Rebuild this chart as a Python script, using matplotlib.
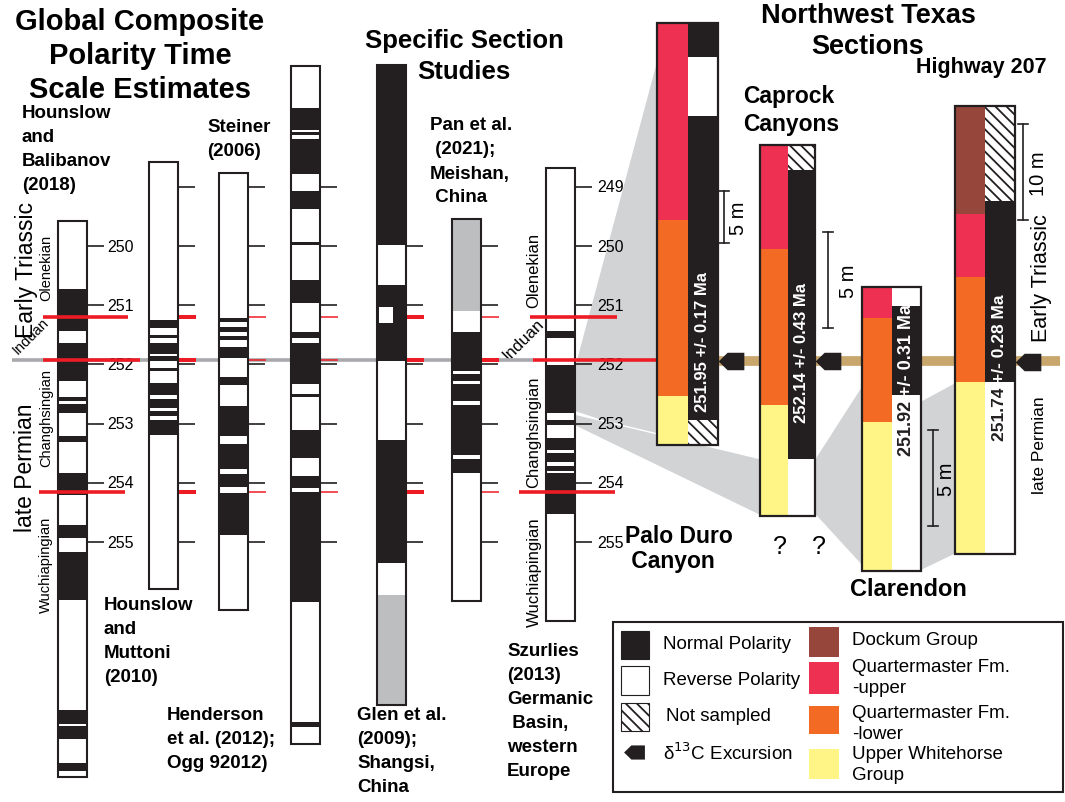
import matplotlib
matplotlib.use("Agg")
import matplotlib.pyplot as plt
from matplotlib.patches import Rectangle, Polygon

plt.rcParams['font.family'] = ['Liberation Sans', 'DejaVu Sans']
plt.rcParams['hatch.linewidth'] = 1.3

BLACK = '#231f20'
UNKNOWN = '#bcbec0'
WEDGE = '#d1d3d4'
RED = '#ed1c24'
PT_GRAY = '#a7a9ac'
TAN = '#c9a66c'
UNIT_COLORS = {'dk': '#97463b', 'qu': '#ee3052', 'ql': '#f26a24', 'wh': '#fff587'}

# ---------------- polarity columns (ages in Ma) ----------------
tick_ages = [249, 250, 251, 252, 253, 254, 255]
boundaries = [251.2, 251.92, 254.15]   # Olenekian/Induan, P-T, Changhsingian/Wuchiapingian

hb_span = (249.58, 258.97)
hb_normal = [(250.73, 251.44), (251.64, 252.28), (252.55, 252.62), (252.67, 252.82),
             (253.21, 253.31), (253.83, 254.21), (254.71, 254.93), (255.17, 255.98),
             (257.84, 258.07), (258.11, 258.33), (258.73, 258.87)]

hm_span = (248.58, 255.79)
hm_normal = [(251.25, 251.39), (251.50, 251.55), (251.64, 251.82), (251.86, 251.94),
             (252.06, 252.11), (252.31, 252.52), (252.58, 252.74), (252.79, 252.87),
             (252.94, 253.19)]

st_span = (248.77, 256.15)
st_normal = [(251.22, 251.28), (251.37, 251.45), (251.52, 251.59), (251.71, 251.89),
             (252.21, 252.35), (252.70, 253.21), (253.34, 253.77), (253.85, 254.07),
             (254.17, 254.88)]

he_span = (246.96, 258.41)
he_normal = [(247.67, 248.04), (248.07, 248.13), (248.19, 248.78), (249.07, 249.38),
             (249.93, 249.98), (250.57, 250.96), (251.45, 251.55), (251.64, 252.33),
             (252.50, 252.55), (253.11, 253.58), (253.89, 254.09), (254.16, 256.01),
             (258.04, 258.13)]

gl_span = (246.94, 257.75)
gl_normal = [(246.94, 249.98), (250.66, 251.94), (253.28, 255.35)]
gl_reverse_part = [(251.03, 251.30)]
gl_unknown = [(255.90, 257.75)]

pan_span = (249.54, 256.00)
pan_unknown = [(249.54, 251.10)]
pan_normal = [(251.45, 252.11), (252.16, 252.28), (252.33, 252.62), (252.69, 253.53),
              (253.60, 253.83)]

sz_span = (248.68, 256.33)
sz_normal = [(251.44, 251.55), (252.01, 252.82), (252.94, 253.02), (253.24, 253.45),
             (253.50, 253.65), (253.72, 253.80), (253.83, 254.53)]

# ---------------- NW Texas sections (metres above base) ----------------
pd_thick = 40.6
pd_litho = [(0, 4.7, 'wh'), (4.7, 21.7, 'ql'), (21.7, 40.6, 'qu')]
pd_pol = [(0, 2.4, 'X'), (2.4, 31.7, 'N'), (31.7, 37.3, 'R'), (37.3, 40.6, 'N')]
cc_thick = 19.2
cc_litho = [(0, 5.75, 'wh'), (5.75, 13.8, 'ql'), (13.8, 19.2, 'qu')]
cc_pol = [(0, 2.95, 'R'), (2.95, 17.9, 'N'), (17.9, 19.2, 'X')]
cl_thick = 14.7
cl_litho = [(0, 7.7, 'wh'), (7.7, 13.1, 'ql'), (13.1, 14.7, 'qu')]
cl_pol = [(0, 9.1, 'R'), (9.1, 13.7, 'N'), (13.7, 14.7, 'R')]
hw_thick = 46.7
hw_litho = [(0, 17.9, 'wh'), (17.9, 28.9, 'ql'), (28.9, 35.5, 'qu'), (35.5, 46.7, 'dk')]
hw_pol = [(0, 18.0, 'R'), (18.0, 36.8, 'N'), (36.8, 46.7, 'X')]
d13c_level = {'pd': 8.1, 'cc': 8.0, 'hw': 20.0}
ages_text = {'pd': '251.95 +/- 0.17 Ma', 'cc': '252.14 +/- 0.43 Ma',
             'cl': ('251.92', '+/- 0.31 Ma'), 'hw': ('251.74', '+/- 0.28 Ma')}

# ---------------- figure / axes ----------------
W, H = 1065, 803
fig = plt.figure(figsize=(W / 100, H / 100), dpi=100)
ax = fig.add_axes([0, 0, 1, 1])
ax.set_xlim(0, W)
ax.set_ylim(H, 0)
ax.axis('off')

# age axis laid over the page: 250 Ma at 247 px, 59.2 px per Myr
axa = fig.add_axes([0, 0, 1, 1])
axa.set_xlim(0, W)
axa.set_ylim(250 + (H - 247) / 59.2, 250 - 247 / 59.2)
axa.axis('off')

COL_W = 29
col_x = {'hb': 58, 'hm': 149, 'st': 219, 'he': 291, 'gl': 377, 'pan': 452, 'sz': 546}
columns = {
    'hb': (hb_span, hb_normal, []),
    'hm': (hm_span, hm_normal, []),
    'st': (st_span, st_normal, []),
    'he': (he_span, he_normal, []),
    'gl': (gl_span, gl_normal, gl_unknown),
    'pan': (pan_span, pan_normal, pan_unknown),
    'sz': (sz_span, sz_normal, []),
}
col_ticks = {'hb': tick_ages[1:], 'hm': tick_ages, 'st': tick_ages, 'he': tick_ages,
             'gl': tick_ages[1:], 'pan': tick_ages[1:], 'sz': tick_ages}

# P-T gray line behind the columns
axa.hlines(boundaries[1], 12, 533, color=PT_GRAY, lw=2.6, zorder=1)

for key, (span, normal, unknown) in columns.items():
    x = col_x[key]
    top, base = span
    axa.add_patch(Rectangle((x, top), COL_W, base - top, fc='white', ec='none', zorder=2))
    for a, b in normal:
        axa.add_patch(Rectangle((x, a), COL_W, b - a, fc=BLACK, ec='none', zorder=3))
    for a, b in unknown:
        axa.add_patch(Rectangle((x, a), COL_W, b - a, fc=UNKNOWN, ec='none', zorder=3))
    if key == 'gl':
        for a, b in gl_reverse_part:
            axa.add_patch(Rectangle((x + 1.5, a), 14, b - a, fc='white', ec='none', zorder=4))
    axa.add_patch(Rectangle((x, top), COL_W, base - top, fill=False, ec=BLACK, lw=1.5, zorder=5))
    axa.hlines(col_ticks[key], x + COL_W + 1, x + COL_W + 17, color=BLACK, lw=1.2, zorder=5)

# age labels on the two reference columns
for a in col_ticks['hb']:
    axa.text(col_x['hb'] + COL_W + 20, a, str(a), fontsize=11.5, va='center', ha='left', zorder=6)
for a in col_ticks['sz']:
    axa.text(col_x['sz'] + COL_W + 22, a, str(a), fontsize=11.5, va='center', ha='left', zorder=6)

# stage boundaries
short_red = {'hm': (2.9, 2.9, 2.9), 'st': (1.1, 1.1, 1.1), 'he': (1.1, 1.1, 1.1),
             'gl': (2.9, 2.9, 2.9), 'pan': (1.1, 2.9, 1.1)}
for key, lws in short_red.items():
    x = col_x[key] + COL_W + 1
    for a, lw in zip(boundaries, lws):
        axa.hlines(a, x, x + 17, color=RED, lw=lw, zorder=6)
long_red = {'hb': [(43, 128), (43, 140), (39, 125)],
            'sz': [(530, 617), (533, 657), (519, 615)]}
for key, spans in long_red.items():
    for a, (x0, x1) in zip(boundaries, spans):
        axa.hlines(a, x0, x1, color=RED, lw=2.6, zorder=7)

# ---------------- Texas sections ----------------
sec_layout = {'pd': (657, 24, 61, 10.4), 'cc': (760, 146, 55, 19.3),
              'cl': (862, 288, 59, 19.3), 'hw': (955, 107, 60, 9.6)}
sec_data = {'pd': (pd_thick, pd_litho, pd_pol), 'cc': (cc_thick, cc_litho, cc_pol),
            'cl': (cl_thick, cl_litho, cl_pol), 'hw': (hw_thick, hw_litho, hw_pol)}
scale_bars = {'pd': (19.4, 5, '5 m', 6, 15), 'cc': (9.7, 5, '5 m', 13, 21),
              'cl': (2.3, 5, '5 m', 12, 13), 'hw': (34.8, 10, '10 m', 8, 15)}
text_pos = {'pd': 10.0, 'cc': 8.5, 'cl': 9.1, 'hw': 18.0}
text_size = {'pd': 12, 'cc': 12, 'cl': 13, 'hw': 12.5}

ARROW = [(-1, 0), (-0.3, 0.68), (1, 0.68), (1, -0.68), (-0.3, -0.68), (-1, 0)]
sec_axes = {}
for key, (x0, top, w, pxm) in sec_layout.items():
    thick, litho, pol = sec_data[key]
    h = thick * pxm
    s = fig.add_axes([x0 / W, 1 - (top + h) / H, w / W, h / H])
    s.set_xlim(0, w)
    s.set_ylim(0, thick)
    s.axis('off')
    sec_axes[key] = s
    half = w / 2
    for a, b, u in litho:
        s.add_patch(Rectangle((0, a), half, b - a, fc=UNIT_COLORS[u], ec='none'))
    for a, b, p in pol:
        if p == 'N':
            s.add_patch(Rectangle((half, a), half, b - a, fc=BLACK, ec='none'))
        elif p == 'R':
            s.add_patch(Rectangle((half, a), half, b - a, fc='white', ec='none'))
        else:
            s.add_patch(Rectangle((half, a), half, b - a, fc='white', ec=BLACK, lw=0,
                                  hatch='\\\\\\'))
    s.add_patch(Rectangle((0, 0), w, thick, fill=False, ec=BLACK, lw=1.6, clip_on=False))

    base, length, lab, dx, ldx = scale_bars[key]
    bx = w + dx
    s.plot([bx, bx], [base, base + length], color=BLACK, lw=1.2, clip_on=False)
    for yy in (base, base + length):
        s.plot([bx - 5, bx + 5], [yy, yy], color=BLACK, lw=1.2, clip_on=False)
    s.text(bx + ldx, base + length / 2, lab, rotation=90, fontsize=14.5,
           ha='center', va='center', clip_on=False)

    txt = ages_text[key]
    tx = half * 1.5
    if isinstance(txt, str):
        s.text(tx, text_pos[key], txt, rotation=90, color='white', fontweight='bold',
               fontsize=text_size[key], ha='center', va='center')
    else:
        m = text_pos[key]
        s.text(tx, m, txt[0] + ' ', rotation=90, rotation_mode='anchor', color=BLACK,
               fontweight='bold', fontsize=text_size[key], ha='right', va='center')
        s.text(tx, m, txt[1], rotation=90, rotation_mode='anchor', color='white',
               fontweight='bold', fontsize=text_size[key], ha='left', va='center')

    if key in d13c_level:
        s.plot([w + 13], [d13c_level[key]], marker=ARROW, ms=18.5, color=BLACK,
               mew=0, clip_on=False, zorder=5)


def to_page(axes, x, y):
    return ax.transData.inverted().transform(axes.transData.transform((x, y)))


# correlation wedges: (source, a, b) on right edge -> (target, a, b) on left edge
ties = [(('sz', 252.01, 252.80), ('pd', 37.1, 0.6)),
        (('sz', 252.84, 253.04), ('cc', 2.95, 0.0)),
        (('cc', 2.95, 0.05), ('cl', 9.6, 0.25)),
        (('cl', 8.8, 0.0), ('hw', 17.9, 0.0))]
for (src, sa, sb), (dst, da, db) in ties:
    if src == 'sz':
        p1 = to_page(axa, col_x['sz'] + COL_W, sa)
        p2 = to_page(axa, col_x['sz'] + COL_W, sb)
    else:
        w = sec_layout[src][2]
        p1 = to_page(sec_axes[src], w, sa)
        p2 = to_page(sec_axes[src], w, sb)
    q1 = to_page(sec_axes[dst], 0, da)
    q2 = to_page(sec_axes[dst], 0, db)
    ax.add_patch(Polygon([p1, q1, q2, p2], closed=True, fc=WEDGE, ec='white', lw=1, zorder=0))

# carbon isotope excursion tie line
x_start, y_tie = to_page(sec_axes['pd'], sec_layout['pd'][2], d13c_level['pd'])
ax.hlines(y_tie, x_start, 1060, color=TAN, lw=7, zorder=0.5)

# ---------------- text ----------------
def lines(x, y, text, dy=24, **kw):
    for i, t in enumerate(text.split('\n')):
        ax.text(x, y + i * dy, t, va='center', **kw)


lines(140, 22, 'Global Composite\nPolarity Time\nScale Estimates', dy=34,
      fontsize=21, fontweight='bold', ha='center')
lines(464, 41, 'Specific Section\nStudies', dy=31, fontsize=18.5, fontweight='bold', ha='center')
lines(868, 16, 'Northwest Texas\nSections', dy=31, fontsize=19.5, fontweight='bold', ha='center')

lab = dict(fontsize=13.5, fontweight='bold', ha='left')
lines(22, 114, 'Hounslow\nand\nBalibanov\n(2018)', **lab)
lines(207, 127, 'Steiner\n(2006)', **lab)
lines(104, 606, 'Hounslow\nand\nMuttoni\n(2010)', **lab)
lines(167, 716, 'Henderson\net al. (2012);\nOgg 92012)', **lab)
lines(357, 716, 'Glen et al.\n(2009);\nShangsi,\nChina', **lab)
lines(430, 126, 'Pan et al.\n (2021);\nMeishan,\n China', **lab)
lines(507, 652, 'Szurlies\n(2013)\nGermanic\n Basin,\nwestern\nEurope', **lab)
big = dict(fontsize=16.5, fontweight='bold', ha='left')
lines(743, 97, 'Caprock\nCanyons', dy=27, **big)
lines(916, 68, 'Highway 207', fontsize=15.5, fontweight='bold', ha='left')
lines(625, 537, 'Palo Duro\n Canyon', dy=25, **big)
ax.text(908, 590, 'Clarendon', fontsize=17, fontweight='bold', ha='center', va='center')
ax.text(780, 547, '?', fontsize=18, ha='center', va='center')
ax.text(819, 547, '?', fontsize=18, ha='center', va='center')

# chronostratigraphy labels
ax.text(26, 270, 'Early Triassic', rotation=90, fontsize=16.5, ha='center', va='center')
ax.text(26, 468, 'late Permian', rotation=90, fontsize=16.5, ha='center', va='center')
ax.text(46, 268, 'Olenekian', rotation=90, fontsize=10.5, ha='center', va='center')
ax.text(31, 336, 'Induan', rotation=45, fontsize=10.5, ha='center', va='center')
ax.text(46, 418, 'Changhsingian', rotation=90, fontsize=10.5, ha='center', va='center')
ax.text(46, 565, 'Wuchiapingian', rotation=90, fontsize=10.5, ha='center', va='center')
ax.text(534, 270, 'Olenekian', rotation=90, fontsize=12, ha='center', va='center')
ax.text(523, 340, 'Induan', rotation=45, fontsize=12, ha='center', va='center')
ax.text(534, 432, 'Changhsingian', rotation=90, fontsize=12, ha='center', va='center')
ax.text(534, 572, 'Wuchiapingian', rotation=90, fontsize=12, ha='center', va='center')
ax.text(1041, 278, 'Early Triassic', rotation=90, fontsize=15.5, ha='center', va='center')
ax.text(1040, 445, 'late Permian', rotation=90, fontsize=12.5, ha='center', va='center')

# ---------------- legend ----------------
ax.add_patch(Rectangle((613, 623), 450, 170, fill=False, ec=BLACK, lw=1.5))
ax.add_patch(Rectangle((621, 632), 28, 28, fc=BLACK, ec=BLACK, lw=0.8))
ax.add_patch(Rectangle((621, 667), 28, 29, fc='white', ec=BLACK, lw=0.8))
ax.add_patch(Rectangle((621, 704), 28, 28, fc='white', ec=BLACK, lw=0.8, hatch='\\\\\\'))
ax.plot([634], [753], marker=ARROW, ms=15, color=BLACK, mew=0)
leg = dict(fontsize=13.5, ha='left', va='center')
ax.text(663, 645, 'Normal Polarity', **leg)
ax.text(663, 681, 'Reverse Polarity', **leg)
ax.text(666, 717, 'Not sampled', **leg)
ax.text(663, 753, r'δ$^{13}$C Excursion', **leg)
for y0, h, u in [(628, 30, 'dk'), (663, 32, 'qu'), (707, 28, 'ql'), (750, 30, 'wh')]:
    ax.add_patch(Rectangle((809, y0), 30, h, fc=UNIT_COLORS[u], ec='none'))
ax.text(852, 641, 'Dockum Group', **leg)
lines(852, 668, 'Quartermaster Fm.\n-upper', dy=21, fontsize=13.5, ha='left')
lines(852, 714, 'Quartermaster Fm.\n-lower', dy=21, fontsize=13.5, ha='left')
lines(852, 755, 'Upper Whitehorse\nGroup', dy=21, fontsize=13.5, ha='left')

fig.savefig('out.png', dpi=100)
